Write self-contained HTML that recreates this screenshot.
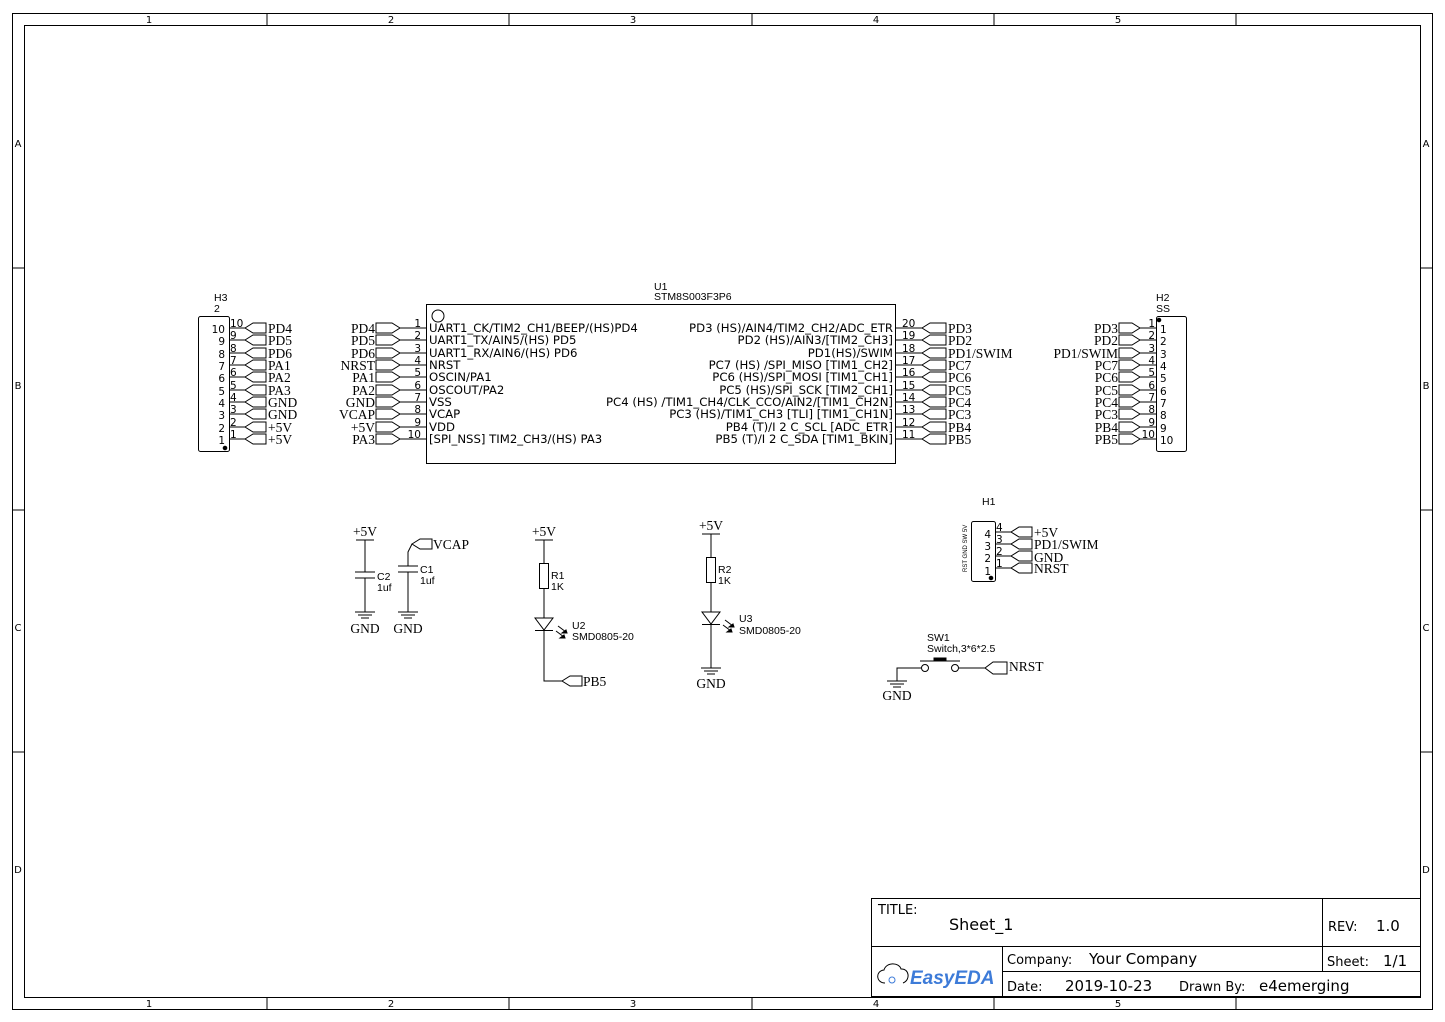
<!DOCTYPE html>
<html><head><meta charset="utf-8"><style>
html,body{margin:0;padding:0;background:#fff}
svg{display:block}
.s{font-family:"Liberation Sans","DejaVu Sans",sans-serif;fill:#000}
.r{font-family:"Liberation Serif",serif;fill:#000;font-size:13.5px}
.n{font-family:"DejaVu Sans","Liberation Sans",sans-serif;font-size:10.5px;fill:#000}
.t{font-family:"DejaVu Sans","Liberation Sans",sans-serif;fill:#000}
line,polyline,polygon,rect,circle,path{stroke:#000;stroke-width:1;fill:none}
</style></head><body>
<svg width="1445" height="1022" viewBox="0 0 1445 1022" xmlns="http://www.w3.org/2000/svg">
<!-- frame -->
<rect x="12.5" y="13.5" width="1420" height="996" stroke-width="1.3"/>
<rect x="24.5" y="25.5" width="1396" height="972" stroke-width="1.3"/>
<g stroke-width="1.2">
<line x1="267" y1="13" x2="267" y2="25"/><line x1="509" y1="13" x2="509" y2="25"/><line x1="752" y1="13" x2="752" y2="25"/><line x1="994" y1="13" x2="994" y2="25"/><line x1="1236" y1="13" x2="1236" y2="25"/>
<line x1="267" y1="997" x2="267" y2="1009"/><line x1="509" y1="997" x2="509" y2="1009"/><line x1="752" y1="997" x2="752" y2="1009"/><line x1="994" y1="997" x2="994" y2="1009"/><line x1="1236" y1="997" x2="1236" y2="1009"/>
<line x1="12" y1="268" x2="24" y2="268"/><line x1="12" y1="510" x2="24" y2="510"/><line x1="12" y1="752" x2="24" y2="752"/>
<line x1="1420" y1="268" x2="1432" y2="268"/><line x1="1420" y1="510" x2="1432" y2="510"/><line x1="1420" y1="752" x2="1432" y2="752"/>
</g>
<g class="t" font-size="10" text-anchor="middle">
<text x="149" y="23">1</text><text x="391" y="23">2</text><text x="633" y="23">3</text><text x="876" y="23">4</text><text x="1118" y="23">5</text>
<text x="149" y="1007">1</text><text x="391" y="1007">2</text><text x="633" y="1007">3</text><text x="876" y="1007">4</text><text x="1118" y="1007">5</text>
<text x="18" y="147">A</text><text x="18" y="389">B</text><text x="18" y="631">C</text><text x="18" y="873">D</text>
<text x="1426" y="147">A</text><text x="1426" y="389">B</text><text x="1426" y="631">C</text><text x="1426" y="873">D</text>
</g>

<!-- H3 -->
<text class="s" font-size="10.5" x="214" y="301">H3</text>
<text class="s" font-size="10.5" x="214" y="312">2</text>
<rect x="198.5" y="316.5" width="31" height="135" rx="2"/>
<circle cx="225" cy="448" r="1.8" style="fill:#000"/>
<g class="n" text-anchor="end">
<text x="225" y="333">10</text><text x="225" y="345">9</text><text x="225" y="358">8</text><text x="225" y="370">7</text><text x="225" y="382">6</text><text x="225" y="395">5</text><text x="225" y="407">4</text><text x="225" y="419">3</text><text x="225" y="432">2</text><text x="225" y="444">1</text>
</g>
<g class="n">
<text x="230" y="327">10</text><text x="230" y="339">9</text><text x="230" y="352">8</text><text x="230" y="364">7</text><text x="230" y="376">6</text><text x="230" y="389">5</text><text x="230" y="401">4</text><text x="230" y="413">3</text><text x="230" y="426">2</text><text x="230" y="438">1</text>
</g>
<g>
<line x1="229" y1="328" x2="245" y2="328"/><polygon points="245,328 253,323 266,323 266,333 253,333"/>
<line x1="229" y1="340" x2="245" y2="340"/><polygon points="245,340 253,335 266,335 266,345 253,345"/>
<line x1="229" y1="353" x2="245" y2="353"/><polygon points="245,353 253,348 266,348 266,358 253,358"/>
<line x1="229" y1="365" x2="245" y2="365"/><polygon points="245,365 253,360 266,360 266,370 253,370"/>
<line x1="229" y1="377" x2="245" y2="377"/><polygon points="245,377 253,372 266,372 266,382 253,382"/>
<line x1="229" y1="390" x2="245" y2="390"/><polygon points="245,390 253,385 266,385 266,395 253,395"/>
<line x1="229" y1="402" x2="245" y2="402"/><polygon points="245,402 253,397 266,397 266,407 253,407"/>
<line x1="229" y1="414" x2="245" y2="414"/><polygon points="245,414 253,409 266,409 266,419 253,419"/>
<line x1="229" y1="427" x2="245" y2="427"/><polygon points="245,427 253,422 266,422 266,432 253,432"/>
<line x1="229" y1="439" x2="245" y2="439"/><polygon points="245,439 253,434 266,434 266,444 253,444"/>
</g>
<g class="r">
<text x="268" y="333">PD4</text><text x="268" y="345">PD5</text><text x="268" y="358">PD6</text><text x="268" y="370">PA1</text><text x="268" y="382">PA2</text><text x="268" y="395">PA3</text><text x="268" y="407">GND</text><text x="268" y="419">GND</text><text x="268" y="432">+5V</text><text x="268" y="444">+5V</text>
</g>

<!-- U1 -->
<text class="s" font-size="10.5" x="654" y="290">U1</text>
<text class="s" font-size="10.5" x="654" y="300">STM8S003F3P6</text>
<rect x="426.5" y="304.5" width="469" height="159"/>
<circle cx="438" cy="316" r="6"/>
<g>
<line x1="400" y1="328" x2="426" y2="328"/><polygon points="400,328 392,323 376,323 376,333 392,333"/>
<line x1="400" y1="340" x2="426" y2="340"/><polygon points="400,340 392,335 376,335 376,345 392,345"/>
<line x1="400" y1="353" x2="426" y2="353"/><polygon points="400,353 392,348 376,348 376,358 392,358"/>
<line x1="400" y1="365" x2="426" y2="365"/><polygon points="400,365 392,360 376,360 376,370 392,370"/>
<line x1="400" y1="377" x2="426" y2="377"/><polygon points="400,377 392,372 376,372 376,382 392,382"/>
<line x1="400" y1="390" x2="426" y2="390"/><polygon points="400,390 392,385 376,385 376,395 392,395"/>
<line x1="400" y1="402" x2="426" y2="402"/><polygon points="400,402 392,397 376,397 376,407 392,407"/>
<line x1="400" y1="414" x2="426" y2="414"/><polygon points="400,414 392,409 376,409 376,419 392,419"/>
<line x1="400" y1="427" x2="426" y2="427"/><polygon points="400,427 392,422 376,422 376,432 392,432"/>
<line x1="400" y1="439" x2="426" y2="439"/><polygon points="400,439 392,434 376,434 376,444 392,444"/>
</g>
<g class="r" text-anchor="end">
<text x="375" y="333">PD4</text><text x="375" y="345">PD5</text><text x="375" y="358">PD6</text><text x="375" y="370">NRST</text><text x="375" y="382">PA1</text><text x="375" y="395">PA2</text><text x="375" y="407">GND</text><text x="375" y="419">VCAP</text><text x="375" y="432">+5V</text><text x="375" y="444">PA3</text>
</g>
<g class="n" text-anchor="end">
<text x="421" y="327">1</text><text x="421" y="339">2</text><text x="421" y="352">3</text><text x="421" y="364">4</text><text x="421" y="376">5</text><text x="421" y="389">6</text><text x="421" y="401">7</text><text x="421" y="413">8</text><text x="421" y="426">9</text><text x="421" y="438">10</text>
</g>
<g class="t" font-size="11.7">
<text x="429" y="332">UART1_CK/TIM2_CH1/BEEP/(HS)PD4</text>
<text x="429" y="344">UART1_TX/AIN5/(HS) PD5</text>
<text x="429" y="357">UART1_RX/AIN6/(HS) PD6</text>
<text x="429" y="369">NRST</text>
<text x="429" y="381">OSCIN/PA1</text>
<text x="429" y="394">OSCOUT/PA2</text>
<text x="429" y="406">VSS</text>
<text x="429" y="418">VCAP</text>
<text x="429" y="431">VDD</text>
<text x="429" y="443">[SPI_NSS] TIM2_CH3/(HS) PA3</text>
</g>
<g class="t" font-size="11.7" text-anchor="end">
<text x="893" y="332">PD3 (HS)/AIN4/TIM2_CH2/ADC_ETR</text>
<text x="893" y="344">PD2 (HS)/AIN3/[TIM2_CH3]</text>
<text x="893" y="357">PD1(HS)/SWIM</text>
<text x="893" y="369">PC7 (HS) /SPI_MISO [TIM1_CH2]</text>
<text x="893" y="381">PC6 (HS)/SPI_MOSI [TIM1_CH1]</text>
<text x="893" y="394">PC5 (HS)/SPI_SCK [TIM2_CH1]</text>
<text x="893" y="406">PC4 (HS) /TIM1_CH4/CLK_CCO/AIN2/[TIM1_CH2N]</text>
<text x="893" y="418">PC3 (HS)/TIM1_CH3 [TLI] [TIM1_CH1N]</text>
<text x="893" y="431">PB4 (T)/I 2 C_SCL [ADC_ETR]</text>
<text x="893" y="443">PB5 (T)/I 2 C_SDA [TIM1_BKIN]</text>
</g>
<g class="n">
<text x="902" y="327">20</text><text x="902" y="339">19</text><text x="902" y="352">18</text><text x="902" y="364">17</text><text x="902" y="376">16</text><text x="902" y="389">15</text><text x="902" y="401">14</text><text x="902" y="413">13</text><text x="902" y="426">12</text><text x="902" y="438">11</text>
</g>
<g>
<line x1="896" y1="328" x2="922" y2="328"/><polygon points="922,328 930,323 946,323 946,333 930,333"/>
<line x1="896" y1="340" x2="922" y2="340"/><polygon points="922,340 930,335 946,335 946,345 930,345"/>
<line x1="896" y1="353" x2="922" y2="353"/><polygon points="922,353 930,348 946,348 946,358 930,358"/>
<line x1="896" y1="365" x2="922" y2="365"/><polygon points="922,365 930,360 946,360 946,370 930,370"/>
<line x1="896" y1="377" x2="922" y2="377"/><polygon points="922,377 930,372 946,372 946,382 930,382"/>
<line x1="896" y1="390" x2="922" y2="390"/><polygon points="922,390 930,385 946,385 946,395 930,395"/>
<line x1="896" y1="402" x2="922" y2="402"/><polygon points="922,402 930,397 946,397 946,407 930,407"/>
<line x1="896" y1="414" x2="922" y2="414"/><polygon points="922,414 930,409 946,409 946,419 930,419"/>
<line x1="896" y1="427" x2="922" y2="427"/><polygon points="922,427 930,422 946,422 946,432 930,432"/>
<line x1="896" y1="439" x2="922" y2="439"/><polygon points="922,439 930,434 946,434 946,444 930,444"/>
</g>
<g class="r">
<text x="948" y="333">PD3</text><text x="948" y="345">PD2</text><text x="948" y="358">PD1/SWIM</text><text x="948" y="370">PC7</text><text x="948" y="382">PC6</text><text x="948" y="395">PC5</text><text x="948" y="407">PC4</text><text x="948" y="419">PC3</text><text x="948" y="432">PB4</text><text x="948" y="444">PB5</text>
</g>

<!-- H2 -->
<text class="s" font-size="10.5" x="1156" y="301">H2</text>
<text class="s" font-size="10.5" x="1156" y="312">SS</text>
<rect x="1156.5" y="316.5" width="30" height="135" rx="2"/>
<circle cx="1159" cy="320" r="1.8" style="fill:#000"/>
<g class="n">
<text x="1160" y="333">1</text><text x="1160" y="345">2</text><text x="1160" y="358">3</text><text x="1160" y="370">4</text><text x="1160" y="382">5</text><text x="1160" y="395">6</text><text x="1160" y="407">7</text><text x="1160" y="419">8</text><text x="1160" y="432">9</text><text x="1160" y="444">10</text>
</g>
<g class="n" text-anchor="end">
<text x="1155" y="327">1</text><text x="1155" y="339">2</text><text x="1155" y="352">3</text><text x="1155" y="364">4</text><text x="1155" y="376">5</text><text x="1155" y="389">6</text><text x="1155" y="401">7</text><text x="1155" y="413">8</text><text x="1155" y="426">9</text><text x="1155" y="438">10</text>
</g>
<g>
<line x1="1140" y1="328" x2="1156" y2="328"/><polygon points="1140,328 1132,323 1119,323 1119,333 1132,333"/>
<line x1="1140" y1="340" x2="1156" y2="340"/><polygon points="1140,340 1132,335 1119,335 1119,345 1132,345"/>
<line x1="1140" y1="353" x2="1156" y2="353"/><polygon points="1140,353 1132,348 1119,348 1119,358 1132,358"/>
<line x1="1140" y1="365" x2="1156" y2="365"/><polygon points="1140,365 1132,360 1119,360 1119,370 1132,370"/>
<line x1="1140" y1="377" x2="1156" y2="377"/><polygon points="1140,377 1132,372 1119,372 1119,382 1132,382"/>
<line x1="1140" y1="390" x2="1156" y2="390"/><polygon points="1140,390 1132,385 1119,385 1119,395 1132,395"/>
<line x1="1140" y1="402" x2="1156" y2="402"/><polygon points="1140,402 1132,397 1119,397 1119,407 1132,407"/>
<line x1="1140" y1="414" x2="1156" y2="414"/><polygon points="1140,414 1132,409 1119,409 1119,419 1132,419"/>
<line x1="1140" y1="427" x2="1156" y2="427"/><polygon points="1140,427 1132,422 1119,422 1119,432 1132,432"/>
<line x1="1140" y1="439" x2="1156" y2="439"/><polygon points="1140,439 1132,434 1119,434 1119,444 1132,444"/>
</g>
<g class="r" text-anchor="end">
<text x="1118" y="333">PD3</text><text x="1118" y="345">PD2</text><text x="1118" y="358">PD1/SWIM</text><text x="1118" y="370">PC7</text><text x="1118" y="382">PC6</text><text x="1118" y="395">PC5</text><text x="1118" y="407">PC4</text><text x="1118" y="419">PC3</text><text x="1118" y="432">PB4</text><text x="1118" y="444">PB5</text>
</g>

<!-- C2 -->
<text class="r" x="365" y="536" text-anchor="middle">+5V</text>
<line x1="356" y1="540" x2="374" y2="540"/>
<line x1="365" y1="540" x2="365" y2="572"/>
<line x1="355" y1="572" x2="375" y2="572" stroke-width="1.5"/>
<line x1="355" y1="578" x2="375" y2="578" stroke-width="1.5"/>
<line x1="365" y1="578" x2="365" y2="612"/>
<line x1="355" y1="612" x2="375" y2="612"/><line x1="358" y1="615" x2="372" y2="615"/><line x1="361" y1="618" x2="369" y2="618"/>
<text class="r" x="365" y="633" text-anchor="middle">GND</text>
<text class="s" font-size="10.5" x="377" y="580">C2</text>
<text class="s" font-size="10.5" x="377" y="591">1uf</text>
<!-- C1 -->
<polyline points="408,566 408,552 412,544"/>
<polygon points="412,544 420,539 432,539 432,549 420,549"/>
<text class="r" x="433" y="549">VCAP</text>
<line x1="398" y1="566" x2="418" y2="566" stroke-width="1.5"/>
<line x1="398" y1="572" x2="418" y2="572" stroke-width="1.5"/>
<line x1="408" y1="572" x2="408" y2="612"/>
<line x1="398" y1="612" x2="418" y2="612"/><line x1="401" y1="615" x2="415" y2="615"/><line x1="404" y1="618" x2="412" y2="618"/>
<text class="r" x="408" y="633" text-anchor="middle">GND</text>
<text class="s" font-size="10.5" x="420" y="573">C1</text>
<text class="s" font-size="10.5" x="420" y="584">1uf</text>

<!-- R1 / U2 -->
<text class="r" x="544" y="536" text-anchor="middle">+5V</text>
<line x1="535" y1="540" x2="553" y2="540"/>
<line x1="544" y1="540" x2="544" y2="563"/>
<rect x="539.5" y="563.5" width="9" height="25"/>
<line x1="544" y1="588" x2="544" y2="618"/>
<polygon points="535,618 553,618 544,630"/>
<line x1="535" y1="630.5" x2="553" y2="630.5"/>
<polyline points="544,630 544,681 562,681"/>
<polygon points="562,681 570,676 582,676 582,686 570,686"/>
<text class="r" x="583" y="686">PB5</text>
<text class="s" font-size="10.5" x="551" y="579">R1</text>
<text class="s" font-size="10.5" x="551" y="590">1K</text>
<g stroke-width="1.2"><line x1="558" y1="626" x2="566" y2="632"/><line x1="556" y1="631" x2="564" y2="637"/></g>
<polygon points="567,633 562,633 566,630" style="fill:#000"/><polygon points="565,638 560,638 564,635" style="fill:#000"/>
<text class="s" font-size="10.5" x="572" y="629">U2</text>
<text class="s" font-size="10.5" x="572" y="640">SMD0805-20</text>

<!-- R2 / U3 -->
<text class="r" x="711" y="530" text-anchor="middle">+5V</text>
<line x1="702" y1="534" x2="720" y2="534"/>
<line x1="711" y1="534" x2="711" y2="557"/>
<rect x="706.5" y="557.5" width="9" height="25"/>
<line x1="711" y1="582" x2="711" y2="612"/>
<polygon points="702,612 720,612 711,624"/>
<line x1="702" y1="624.5" x2="720" y2="624.5"/>
<line x1="711" y1="624" x2="711" y2="668"/>
<line x1="701" y1="668" x2="721" y2="668"/><line x1="704" y1="671" x2="718" y2="671"/><line x1="707" y1="674" x2="715" y2="674"/>
<text class="r" x="711" y="688" text-anchor="middle">GND</text>
<text class="s" font-size="10.5" x="718" y="573">R2</text>
<text class="s" font-size="10.5" x="718" y="584">1K</text>
<g stroke-width="1.2"><line x1="725" y1="620" x2="733" y2="626"/><line x1="723" y1="625" x2="731" y2="631"/></g>
<polygon points="734,627 729,627 733,624" style="fill:#000"/><polygon points="732,632 727,632 731,629" style="fill:#000"/>
<text class="s" font-size="10.5" x="739" y="622">U3</text>
<text class="s" font-size="10.5" x="739" y="634">SMD0805-20</text>

<!-- H1 -->
<text class="s" font-size="10.5" x="982" y="505">H1</text>
<rect x="971.5" y="521.5" width="24" height="60" rx="2"/>
<circle cx="991" cy="578" r="1.8" style="fill:#000"/>
<text class="s" font-size="6" transform="translate(967,572) rotate(-90)">RST GND SW 5V</text>
<g class="n" text-anchor="end">
<text x="991" y="538">4</text><text x="991" y="550">3</text><text x="991" y="562">2</text><text x="991" y="575">1</text>
</g>
<g class="n">
<text x="996" y="531">4</text><text x="996" y="543">3</text><text x="996" y="555">2</text><text x="996" y="567">1</text>
</g>
<g>
<line x1="995" y1="532" x2="1011" y2="532"/><polygon points="1011,532 1019,527 1032,527 1032,537 1019,537"/>
<line x1="995" y1="544" x2="1011" y2="544"/><polygon points="1011,544 1019,539 1032,539 1032,549 1019,549"/>
<line x1="995" y1="556" x2="1011" y2="556"/><polygon points="1011,556 1019,551 1032,551 1032,561 1019,561"/>
<line x1="995" y1="568" x2="1011" y2="568"/><polygon points="1011,568 1019,563 1032,563 1032,573 1019,573"/>
</g>
<g class="r">
<text x="1034" y="537">+5V</text><text x="1034" y="549">PD1/SWIM</text><text x="1034" y="562">GND</text><text x="1034" y="573">NRST</text>
</g>

<!-- SW1 -->
<text class="s" font-size="10.5" x="927" y="641">SW1</text>
<text class="s" font-size="10.5" x="927" y="652">Switch,3*6*2.5</text>
<line x1="920" y1="661" x2="960" y2="661" stroke-width="1.5"/>
<rect x="934" y="658" width="12" height="3" style="fill:#000"/>
<circle cx="925" cy="668" r="3.5"/>
<circle cx="955" cy="668" r="3.5"/>
<polyline points="921,668 897,668 897,681"/>
<line x1="887" y1="681" x2="907" y2="681"/><line x1="890" y1="684" x2="904" y2="684"/><line x1="893" y1="687" x2="901" y2="687"/>
<text class="r" x="897" y="700" text-anchor="middle">GND</text>
<line x1="959" y1="668" x2="985" y2="668"/>
<polygon points="985,668 993,662 1007,662 1007,674 993,674"/>
<text class="r" x="1009" y="671">NRST</text>

<!-- title block -->
<rect x="871.5" y="898.5" width="549" height="98" stroke-width="1.3"/>
<line x1="871" y1="946.5" x2="1420" y2="946.5" stroke-width="1.2"/>
<line x1="1002" y1="971.5" x2="1420" y2="971.5" stroke-width="1.2"/>
<line x1="1002.5" y1="946" x2="1002.5" y2="997" stroke-width="1.2"/>
<line x1="1322.5" y1="898" x2="1322.5" y2="971" stroke-width="1.2"/>
<text class="t" font-size="13" x="878" y="914">TITLE:</text>
<text class="t" font-size="16" x="949" y="930">Sheet_1</text>
<text class="t" font-size="13" x="1328" y="931">REV:</text>
<text class="t" font-size="15" x="1376" y="931">1.0</text>
<text class="t" font-size="13" x="1007" y="964">Company:</text>
<text class="t" font-size="15" x="1089" y="964">Your Company</text>
<text class="t" font-size="13" x="1327" y="966">Sheet:</text>
<text class="t" font-size="15" x="1383" y="966">1/1</text>
<text class="t" font-size="13" x="1007" y="991">Date:</text>
<text class="t" font-size="15" x="1065" y="991">2019-10-23</text>
<text class="t" font-size="13" x="1179" y="991">Drawn By:</text>
<text class="t" font-size="15" x="1259" y="991">e4emerging</text>
<g stroke="#3d7bd8" stroke-width="2.5" fill="none">
<path d="M885,983 C876,983 875,971 884,970 C886,962 899,962 901,969 C909,968 911,980 903,983"/>
<circle cx="892" cy="980" r="3" style="stroke:#3d7bd8"/>
</g>
<text x="910" y="984" font-family="Liberation Sans,sans-serif" font-size="19" font-style="italic" font-weight="bold" fill="#3d7bd8">EasyEDA</text>
</svg>
</body></html>
